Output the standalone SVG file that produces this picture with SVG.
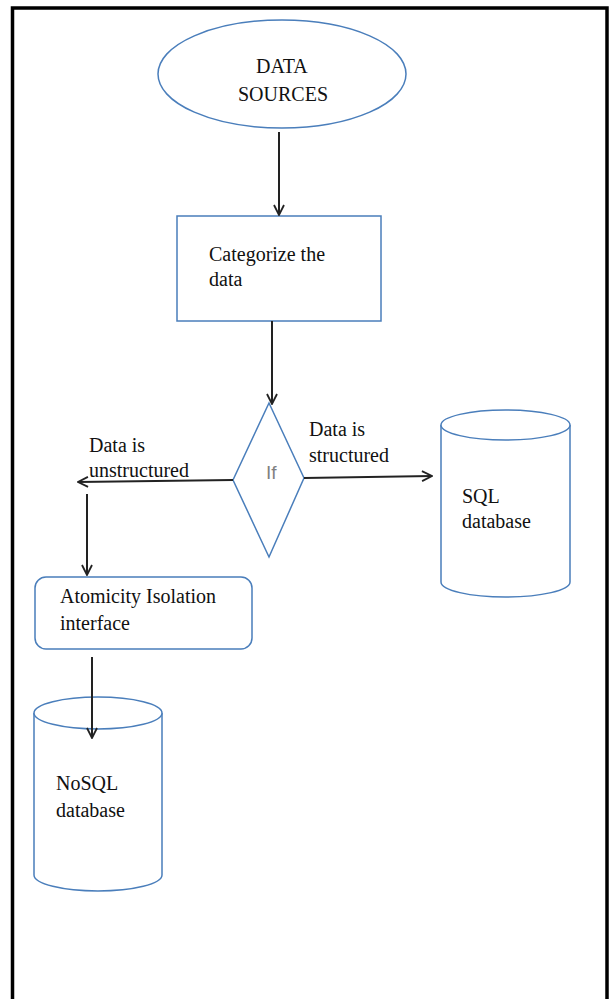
<svg xmlns="http://www.w3.org/2000/svg" width="614" height="999" viewBox="0 0 614 999">
<defs>
<marker id="arr" viewBox="0 0 12 12" refX="11" refY="6" markerWidth="12" markerHeight="12" markerUnits="userSpaceOnUse" orient="auto">
<path d="M1,1 L11,6 L1,11" fill="none" stroke="#222" stroke-width="1.8"/>
</marker>
</defs>
<style>
.shape{fill:#fff;stroke:#4a7ebb;stroke-width:1.5}
.t{font-family:"Liberation Serif","Times New Roman",serif;font-size:20px;fill:#111}
.conn{stroke:#222;stroke-width:2;fill:none}
</style>
<rect x="0" y="0" width="614" height="999" fill="#fff"/>
<rect x="12.5" y="8" width="594.5" height="1010" fill="none" stroke="#000" stroke-width="3.5"/>
<g id="data-sources">
<ellipse class="shape" cx="282" cy="74" rx="124" ry="54"/>
<text class="t" x="256" y="73">DATA</text>
<text class="t" x="238" y="101">SOURCES</text>
</g>
<g id="categorize">
<rect class="shape" x="177" y="216" width="204" height="105"/>
<text class="t" x="209" y="261">Categorize the</text>
<text class="t" x="209" y="286">data</text>
</g>
<g id="if">
<polygon class="shape" points="269,403 304,478 269,557 233,480"/>
<text x="266" y="479" font-family="Liberation Sans, Arial, sans-serif" font-size="19" fill="#808080">If</text>
</g>
<g id="sql-db">
<path class="shape" d="M441,425 L441,582 A64.5,15 0 0 0 570,582 L570,425"/>
<ellipse class="shape" cx="505.5" cy="425" rx="64.5" ry="15"/>
<text class="t" x="462" y="503">SQL</text>
<text class="t" x="462" y="528">database</text>
</g>
<g id="atomicity">
<rect class="shape" x="35" y="577" width="217" height="72" rx="11" ry="11"/>
<text class="t" x="60" y="603">Atomicity Isolation</text>
<text class="t" x="60" y="630">interface</text>
</g>
<g id="nosql-db">
<path class="shape" d="M34,713 L34,875 A64,16 0 0 0 162,875 L162,713"/>
<ellipse class="shape" cx="98" cy="713" rx="64" ry="16"/>
<text class="t" x="56" y="790">NoSQL</text>
<text class="t" x="56" y="817">database</text>
</g>
<g id="labels">
<text class="t" x="89" y="452">Data is</text>
<text class="t" x="89" y="477">unstructured</text>
<text class="t" x="309" y="436">Data is</text>
<text class="t" x="309" y="462">structured</text>
</g>
<g id="connectors">
<line class="conn" x1="279" y1="132" x2="279" y2="215" marker-end="url(#arr)"/>
<line class="conn" x1="272" y1="321" x2="272" y2="404" marker-end="url(#arr)"/>
<line class="conn" x1="233" y1="480" x2="78" y2="482" marker-end="url(#arr)"/>
<line class="conn" x1="304" y1="478" x2="432" y2="476" marker-end="url(#arr)"/>
<line class="conn" x1="87" y1="494" x2="87" y2="575" marker-end="url(#arr)"/>
<line class="conn" x1="92" y1="657" x2="92" y2="738" marker-end="url(#arr)"/>
</g>
</svg>
